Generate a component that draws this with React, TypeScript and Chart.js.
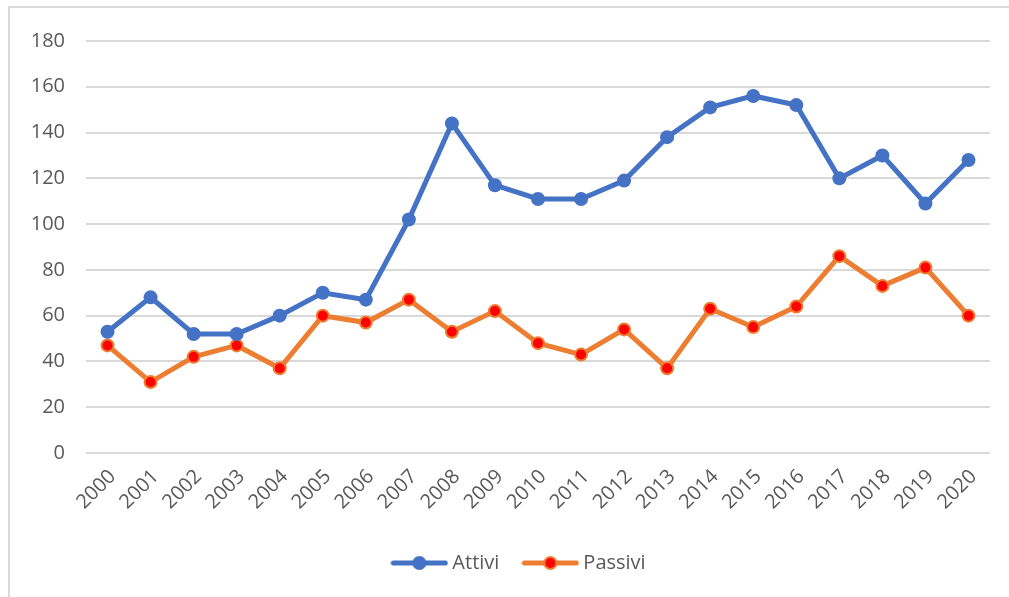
import React, { useEffect, useRef } from "react";
import { Chart, registerables } from "chart.js";

Chart.register(...registerables);

const years = ["2000","2001","2002","2003","2004","2005","2006","2007","2008","2009","2010","2011","2012","2013","2014","2015","2016","2017","2018","2019","2020"];
const attivi = [53, 68, 52, 52, 60, 70, 67, 102, 144, 117, 111, 111, 119, 138, 151, 156, 152, 120, 130, 109, 128];
const passivi = [47, 31, 42, 47, 37, 60, 57, 67, 53, 62, 48, 43, 54, 37, 63, 55, 64, 86, 73, 81, 60];
const yTicks = [0, 20, 40, 60, 80, 100, 120, 140, 160, 180];

const BLUE = "#4472C4";
const ORANGE = "#ED7D31";
const RED = "#FF0000";
const TEXT = "#595959";
const GRID = "#d9d9d9";
const FONT = "'Open Sans', sans-serif";

function legendIcon(line: string, fill: string, stroke: string, r: number, bw: number) {
  const c = document.createElement("canvas");
  c.width = 58;
  c.height = 18;
  const ctx = c.getContext("2d")!;
  ctx.strokeStyle = line;
  ctx.lineWidth = 5;
  ctx.lineCap = "round";
  ctx.beginPath();
  ctx.moveTo(3, 9);
  ctx.lineTo(55, 9);
  ctx.stroke();
  ctx.beginPath();
  ctx.arc(29, 9, r, 0, Math.PI * 2);
  ctx.fillStyle = fill;
  ctx.fill();
  if (bw > 0) {
    ctx.lineWidth = bw;
    ctx.strokeStyle = stroke;
    ctx.stroke();
  }
  return c;
}

const legendShift = {
  id: "legendShift",
  afterLayout(chart: any) {
    if (chart.legend) {
      chart.legend.left += 21;
      chart.legend.right += 21;
    }
  },
};

export default function App() {
  const ref = useRef<HTMLCanvasElement | null>(null);
  useEffect(() => {
    if (!ref.current) return;
    const icons = [legendIcon(BLUE, BLUE, BLUE, 7, 0), legendIcon(ORANGE, RED, ORANGE, 6, 2)];
    const chart = new Chart(ref.current, {
      type: "line",
      data: {
        labels: years,
        datasets: [
          {
            label: "Attivi",
            data: attivi,
            borderColor: BLUE,
            backgroundColor: BLUE,
            borderWidth: 5,
            pointRadius: 7,
            pointBorderWidth: 0,
            pointBackgroundColor: BLUE,
            pointBorderColor: BLUE,
            tension: 0,
          },
          {
            label: "Passivi",
            data: passivi,
            borderColor: ORANGE,
            backgroundColor: RED,
            borderWidth: 5,
            pointRadius: 6,
            pointBorderWidth: 2,
            pointBackgroundColor: RED,
            pointBorderColor: ORANGE,
            tension: 0,
          },
        ],
      },
      plugins: [legendShift],
      options: {
        animation: false,
        responsive: false,
        maintainAspectRatio: false,
        layout: { padding: { left: 0, right: 19, top: 28, bottom: 14 } },
        plugins: {
          tooltip: { enabled: false },
          legend: {
            position: "bottom",
            labels: {
              usePointStyle: true,
              pointStyleWidth: 46,
              padding: 28,
              color: TEXT,
              font: { family: FONT, size: 20 },
              generateLabels: (ch: any) =>
                ch.data.datasets.map((ds: any, i: number) => ({
                  text: ds.label,
                  pointStyle: icons[i],
                  fontColor: TEXT,
                  datasetIndex: i,
                  hidden: false,
                  lineWidth: 0,
                })),
            },
          },
        },
        scales: {
          x: {
            offset: true,
            grid: { display: false },
            border: { display: false },
            afterFit: (s: any) => { s.height = 72; },
            ticks: {
              color: TEXT,
              font: { family: FONT, size: 20 },
              minRotation: 45,
              maxRotation: 45,
              autoSkip: false,
              padding: 4,
              labelOffset: 5,
            },
          },
          y: {
            min: 0,
            max: 180,
            afterFit: (s: any) => { s.width = 76; },
            afterBuildTicks: (s: any) => { s.ticks = yTicks.map((v) => ({ value: v })); },
            grid: { color: GRID, lineWidth: 2, drawTicks: false },
            border: { display: false },
            ticks: {
              color: TEXT,
              font: { family: FONT, size: 20 },
              padding: 21,
            },
          },
        },
      },
    });
    return () => chart.destroy();
  }, []);
  return (
    <div
      style={{
        position: "absolute",
        left: 8,
        top: 6,
        width: 1001,
        height: 591,
        boxSizing: "border-box",
        borderLeft: "2px solid #d9d9d9",
        borderTop: "2px solid #d9d9d9",
        background: "#fff",
        overflow: "hidden",
      }}
    >
      <canvas ref={ref} width={999} height={589} style={{ display: "block", width: 999, height: 589 }} />
    </div>
  );
}
